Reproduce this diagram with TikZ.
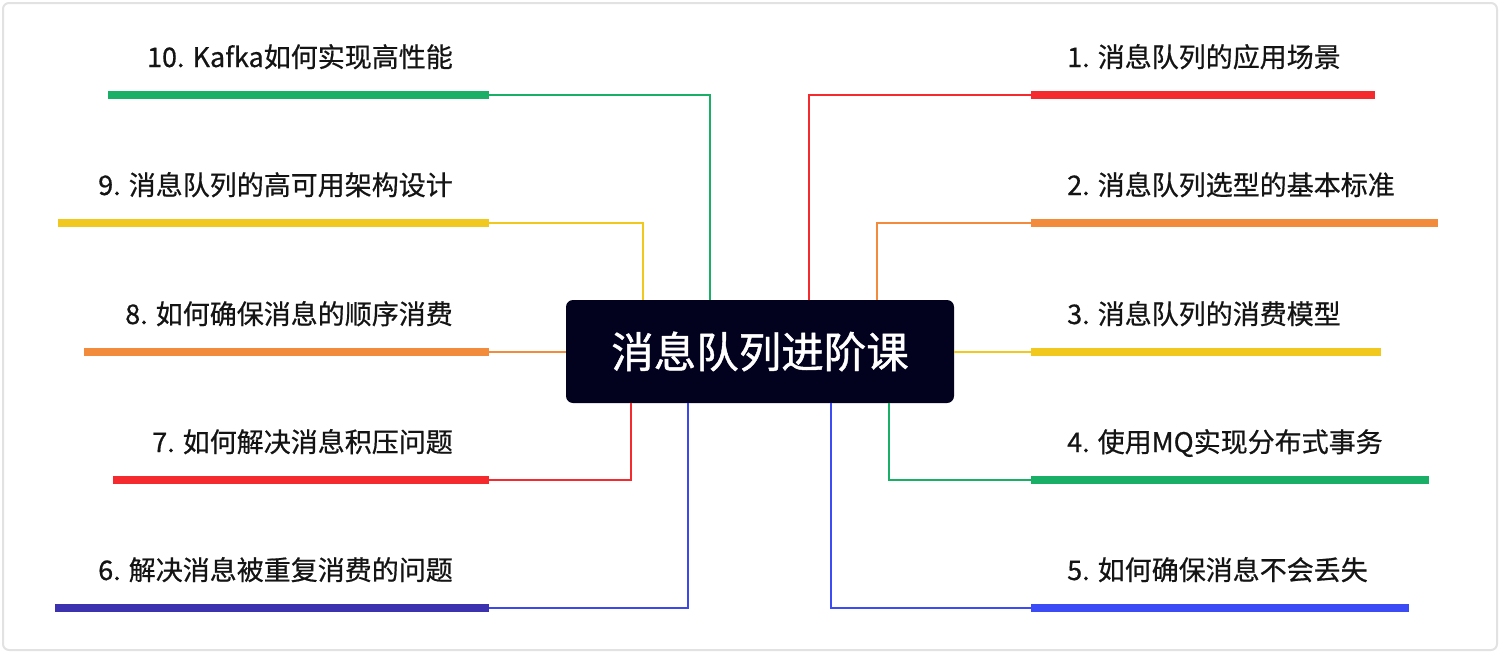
\documentclass[tikz,border=0pt]{standalone}
\usepackage{fontspec}
\setmainfont{Noto Sans CJK SC}
\newfontfamily\medfont{Noto Sans CJK SC}[FakeBold=0.6]
\newfontfamily\hubfont{Noto Sans CJK SC}[FakeBold=1.0]
\definecolor{cgreen}{HTML}{1AAF67}
\definecolor{cred}{HTML}{F42A2F}
\definecolor{corange}{HTML}{F28C3C}
\definecolor{cyellow}{HTML}{F0C81E}
\definecolor{cindigo}{HTML}{3C32B0}
\definecolor{cblue}{HTML}{3B4CF6}
\definecolor{hubfill}{HTML}{02021E}
\definecolor{frame}{HTML}{E2E2E2}
\definecolor{ink}{HTML}{141414}
\tikzset{
  bar/.style={rectangle, inner sep=0pt, minimum height=7.5pt, draw=none},
  lbl/.style={inner sep=0pt, text=ink, font=\medfont\fontsize{27pt}{30pt}\selectfont},
  conn/.style={line width=1.5pt},
  hubbox/.style={rectangle, rounded corners=7pt, fill=hubfill, text=white,
    minimum width=388pt, minimum height=103pt, inner sep=0pt,
    font=\hubfont\fontsize{42.5pt}{46pt}\selectfont}
}
\begin{document}
\begin{tikzpicture}[x=1pt,y=-1pt]
\useasboundingbox (0,0) rectangle (1500,653);
\draw[frame, line width=2pt, rounded corners=6pt] (3,3) rectangle (1497,650);
% hub
\node[hubbox] (hub) at (760,351.5) {消息队列进阶课};
% left bars
\node[bar, fill=cgreen,  minimum width=381pt] (b10) at (298.5,95) {};
\node[bar, fill=cyellow, minimum width=431pt] (b9)  at (273.5,223) {};
\node[bar, fill=corange, minimum width=405pt] (b8)  at (286.5,352) {};
\node[bar, fill=cred,    minimum width=376pt] (b7)  at (301,480) {};
\node[bar, fill=cindigo, minimum width=434pt] (b6)  at (272,608) {};
% right bars
\node[bar, fill=cred,    minimum width=344pt] (b1) at (1203,95) {};
\node[bar, fill=corange, minimum width=407pt] (b2) at (1234.5,223) {};
\node[bar, fill=cyellow, minimum width=350pt] (b3) at (1206,352) {};
\node[bar, fill=cgreen,  minimum width=398pt] (b4) at (1230,480) {};
\node[bar, fill=cblue,   minimum width=378pt] (b5) at (1220,608) {};
% labels
\node[lbl, anchor=base east] (t10) at (453,67) {10. Kafka如何实现高性能};
\node[lbl, anchor=base east] (t9)  at (453,195) {9. 消息队列的高可用架构设计};
\node[lbl, anchor=base east] (t8)  at (453,324) {8. 如何确保消息的顺序消费};
\node[lbl, anchor=base east] (t7)  at (453,452) {7. 如何解决消息积压问题};
\node[lbl, anchor=base east] (t6)  at (453,580) {6. 解决消息被重复消费的问题};
\node[lbl, anchor=base west] (t1) at (1067,67) {1. 消息队列的应用场景};
\node[lbl, anchor=base west] (t2) at (1067,195) {2. 消息队列选型的基本标准};
\node[lbl, anchor=base west] (t3) at (1067,324) {3. 消息队列的消费模型};
\node[lbl, anchor=base west] (t4) at (1067,452) {4. 使用MQ实现分布式事务};
\node[lbl, anchor=base west] (t5) at (1067,580) {5. 如何确保消息不会丢失};
% connectors
\draw[conn, cgreen]  (b10.east) -| ([xshift=-50pt]hub.north);
\draw[conn, cyellow] (b9.east)  -| ([xshift=-117pt]hub.north);
\draw[conn, corange] (b8.east)  -- (hub.west |- b8.east);
\draw[conn, cred]    (b7.east)  -| ([xshift=-129pt]hub.south);
\draw[conn, cblue!85!cindigo] (b6.east) -| ([xshift=-72pt]hub.south);
\draw[conn, cred]    (b1.west)  -| ([xshift=49pt]hub.north);
\draw[conn, corange] (b2.west)  -| ([xshift=117pt]hub.north);
\draw[conn, cyellow] (b3.west)  -- (hub.east |- b3.west);
\draw[conn, cgreen]  (b4.west)  -| ([xshift=129pt]hub.south);
\draw[conn, cblue]   (b5.west)  -| ([xshift=71pt]hub.south);
\end{tikzpicture}
\end{document}
